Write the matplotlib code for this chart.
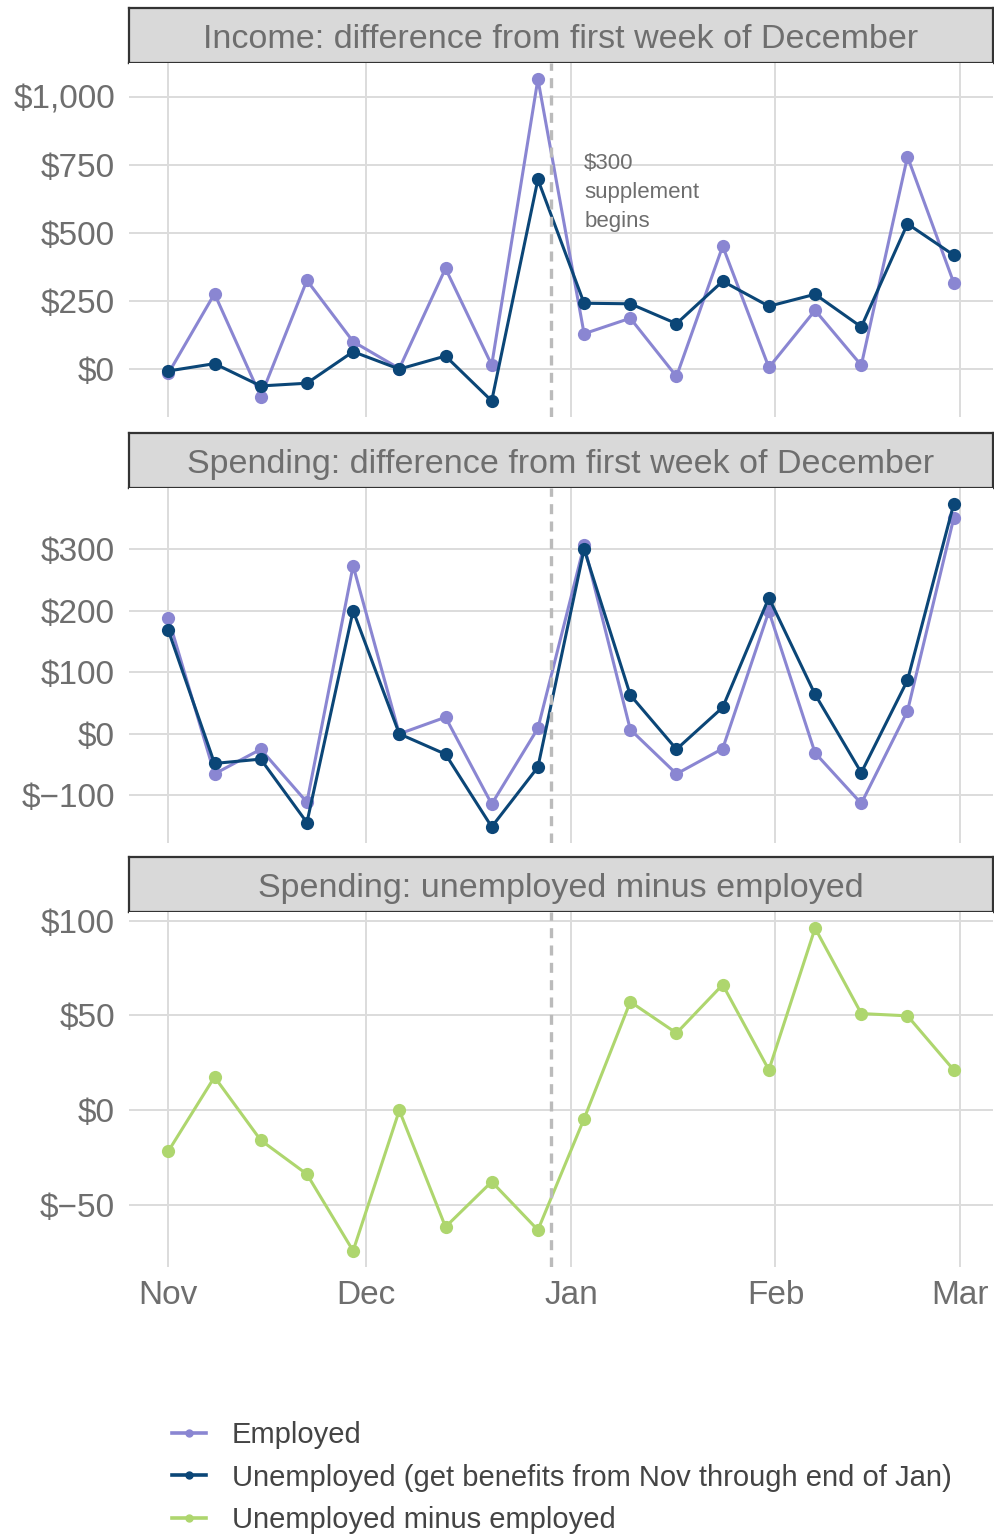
import numpy as np
import matplotlib
matplotlib.use("Agg")
import matplotlib.pyplot as plt
from matplotlib.lines import Line2D
from matplotlib.ticker import FuncFormatter, MultipleLocator

plt.rcParams['font.family'] = ['Liberation Sans', 'DejaVu Sans']

# -----------------------------
# Данные (недели, начиная с 1 ноября)
# -----------------------------
weeks = np.arange('2020-11-01', '2021-03-01', 7, dtype='datetime64[D]')

income_employed = [-18, 275, -103, 324, 99, 0, 368, 13, 1064, 128, 185, -29,
                   450, 4, 214, 12, 779, 316]
income_unemployed = [-9, 18, -64, -54, 62, -2, 46, -119, 695, 240, 238, 165,
                     321, 229, 273, 153, 532, 417]

spend_employed = [188, -65, -25, -111, 273, 0, 27, -114, 9, 306, 7, -65,
                  -24, 199, -31, -113, 37, 350]
spend_unemployed = [168, -48, -41, -144, 200, 0, -33, -151, -54, 300, 63, -25,
                    43, 221, 64, -63, 87, 373]

spend_gap = [-21.5, 17.6, -15.7, -33.6, -74, 0, -61.4, -37.6, -63, -4.4,
             57.2, 40.7, 66.2, 21.3, 96, 51, 49.8, 21.3]

panel_titles = ["Income: difference from first week of December",
                "Spending: difference from first week of December",
                "Spending: unemployed minus employed"]
series_labels = ["Employed",
                 "Unemployed (get benefits from Nov through end of Jan)",
                 "Unemployed minus employed"]
month_ticks = np.array(['2020-11-01', '2020-12-01', '2021-01-01',
                        '2021-02-01', '2021-03-01'], dtype='datetime64[D]')
month_labels = ["Nov", "Dec", "Jan", "Feb", "Mar"]
supplement_date = np.datetime64('2020-12-29')
note_date = np.datetime64('2021-01-03')

c_emp = '#8A86D2'
c_unemp = '#0B4677'
c_gap = '#AED66E'
c_text = '#6E6E6E'
c_grid = '#DCDCDC'

# -----------------------------
# Раскладка панелей (в пикселях исходника)
# -----------------------------
W, H = 995, 1535
fig = plt.figure(figsize=(W / 100, H / 100), dpi=100)

left, right = 129, 993
panels = [(8, 63, 417), (433, 488, 843), (857, 912, 1267)]


def fig_rect(top, bottom):
    return [left / W, 1 - bottom / H, (right - left) / W, (bottom - top) / H]


def dollars(v, pos=None):
    s = f"{abs(v):,.0f}"
    return f"$\u2212{s}" if v < 0 else f"${s}"


span = (weeks[-1] - weeks[0]).astype(float)
x0 = weeks[0] - np.timedelta64(int(round(span * 0.05 * 24)), 'h')
x1 = weeks[-1] + np.timedelta64(int(round(span * 0.05 * 24)), 'h')

series_sets = [
    [(income_employed, c_emp), (income_unemployed, c_unemp)],
    [(spend_employed, c_emp), (spend_unemployed, c_unemp)],
    [(spend_gap, c_gap)],
]
steps = [250, 100, 50]

axes = []
for i, (s_top, p_top, p_bot) in enumerate(panels):
    # полоса с заголовком
    sax = fig.add_axes(fig_rect(s_top, p_top))
    sax.set_facecolor('#D9D9D9')
    sax.set_xticks([])
    sax.set_yticks([])
    for sp in sax.spines.values():
        sp.set_color('#333333')
        sp.set_linewidth(1.6)
    sax.text(0.5, 0.43, panel_titles[i], ha='center', va='center',
             fontsize=24.5, color=c_text, transform=sax.transAxes)

    ax = fig.add_axes(fig_rect(p_top, p_bot))
    axes.append(ax)
    for vals, col in series_sets[i]:
        ax.plot(weeks, vals, color=col, lw=2.2, marker='o', ms=9.5,
                markeredgewidth=0, zorder=3)
    ax.axvline(supplement_date, color='#BBBBBB', lw=2.4,
               linestyle=(0, (3, 2.2)), zorder=4)

    allv = np.concatenate([np.asarray(v, float) for v, _ in series_sets[i]])
    lo, hi = allv.min(), allv.max()
    pad = (hi - lo) * 0.05
    ax.set_ylim(lo - pad, hi + pad)
    ax.set_xlim(x0, x1)
    ax.yaxis.set_major_locator(MultipleLocator(steps[i]))
    ax.yaxis.set_major_formatter(FuncFormatter(dollars))
    ax.set_xticks(month_ticks)
    ax.set_xticklabels(month_labels if i == 2 else [])
    ax.grid(True, color=c_grid, lw=1.4)
    ax.set_axisbelow(True)
    for sp in ax.spines.values():
        sp.set_visible(False)
    ax.tick_params(length=0, labelsize=24, labelcolor=c_text)
    ax.tick_params(axis='y', pad=10)
    ax.tick_params(axis='x', pad=9)

axes[0].text(note_date, 792, "$300\nsupplement\nbegins", ha='left', va='top',
             fontsize=16, color=c_text, linespacing=1.5)

# -----------------------------
# Легенда
# -----------------------------
handles = [Line2D([], [], color=c, lw=2.6, marker='o', ms=5)
           for c in (c_emp, c_unemp, c_gap)]
fig.legend(handles, series_labels, loc='upper left',
           bbox_to_anchor=(172 / W, 1 - 1421 / H), frameon=False,
           fontsize=21, handlelength=1.15, handletextpad=0.9,
           labelspacing=0.5, borderpad=0, borderaxespad=0,
           labelcolor='#444444')

fig.savefig("out.png", dpi=100)
